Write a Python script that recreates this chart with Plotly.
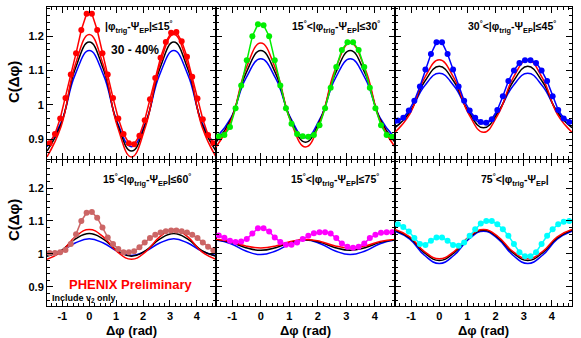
import plotly.graph_objects as go

# ---------------- data ----------------
bin_x = [-1.473, -1.276, -1.080, -0.884, -0.687, -0.491, -0.295, -0.098,
         0.098, 0.295, 0.491, 0.687, 0.884, 1.080, 1.276, 1.473,
         1.669, 1.865, 2.062, 2.258, 2.454, 2.651, 2.847, 3.043,
         3.240, 3.436, 3.633, 3.829, 4.025, 4.222, 4.418, 4.614]

curve_x = [-1.571, -1.047, -0.524, 0.0, 0.524, 1.047, 1.571, 2.094, 2.618,
           3.142, 3.665, 4.189, 4.712]

data_p1 = [0.888, 0.915, 0.960, 1.020, 1.088, 1.150, 1.218, 1.265,
           1.265, 1.218, 1.150, 1.088, 1.020, 0.960, 0.915, 0.888,
           0.885, 0.910, 0.955, 1.016, 1.078, 1.137, 1.183, 1.210,
           1.212, 1.185, 1.140, 1.082, 1.018, 0.958, 0.912, 0.888]
data_p2 = [0.908, 0.912, 0.935, 0.990, 1.056, 1.130, 1.200, 1.235,
           1.232, 1.200, 1.130, 1.056, 0.990, 0.945, 0.915, 0.908,
           0.907, 0.912, 0.940, 0.990, 1.050, 1.110, 1.160, 1.182,
           1.182, 1.160, 1.110, 1.050, 0.990, 0.940, 0.912, 0.907]
data_p3 = [0.954, 0.962, 0.983, 1.012, 1.053, 1.103, 1.148, 1.182,
           1.182, 1.148, 1.103, 1.053, 1.012, 0.983, 0.962, 0.950,
           0.948, 0.958, 0.985, 1.025, 1.069, 1.100, 1.122, 1.130,
           1.130, 1.122, 1.100, 1.069, 1.025, 0.985, 0.960, 0.950]
data_p4 = [1.003, 1.003, 1.005, 1.012, 1.030, 1.060, 1.100, 1.125,
           1.127, 1.110, 1.080, 1.050, 1.030, 1.015, 1.005, 1.005,
           1.008, 1.020, 1.035, 1.048, 1.058, 1.065, 1.069, 1.071,
           1.071, 1.069, 1.065, 1.058, 1.048, 1.035, 1.022, 1.011]
data_p5 = [1.056, 1.049, 1.040, 1.036, 1.038, 1.045, 1.062, 1.078,
           1.078, 1.068, 1.050, 1.036, 1.028, 1.028, 1.035, 1.045,
           1.055, 1.063, 1.066, 1.066, 1.062, 1.048, 1.032, 1.022,
           1.019, 1.022, 1.032, 1.048, 1.058, 1.064, 1.066, 1.066]
data_p6 = [1.090, 1.082, 1.068, 1.048, 1.030, 1.027, 1.040, 1.050,
           1.050, 1.040, 1.027, 1.025, 1.035, 1.055, 1.075, 1.092,
           1.100, 1.100, 1.090, 1.075, 1.055, 1.030, 1.005, 0.993,
           0.993, 1.005, 1.030, 1.055, 1.075, 1.090, 1.098, 1.100]

red_p1 = [0.848, 0.937, 1.116, 1.205, 1.116, 0.937, 0.848, 0.937, 1.116, 1.205, 1.116, 0.937, 0.848]
blk_p1 = [0.865, 0.944, 1.104, 1.183, 1.104, 0.944, 0.865, 0.944, 1.104, 1.183, 1.104, 0.944, 0.865]
blu_p1 = [0.878, 0.948, 1.088, 1.158, 1.088, 0.948, 0.878, 0.948, 1.088, 1.158, 1.088, 0.948, 0.878]

red_p2 = [0.877, 0.953, 1.104, 1.180, 1.104, 0.953, 0.877, 0.953, 1.104, 1.180, 1.104, 0.953, 0.877]
blk_p2 = [0.891, 0.958, 1.091, 1.158, 1.091, 0.958, 0.891, 0.958, 1.091, 1.158, 1.091, 0.958, 0.891]
blu_p2 = [0.904, 0.962, 1.077, 1.134, 1.077, 0.962, 0.904, 0.962, 1.077, 1.134, 1.077, 0.962, 0.904]

red_p3 = [0.920, 0.973, 1.078, 1.131, 1.078, 0.973, 0.920, 0.973, 1.078, 1.131, 1.078, 0.973, 0.920]
blk_p3 = [0.933, 0.978, 1.067, 1.112, 1.067, 0.978, 0.933, 0.978, 1.067, 1.112, 1.067, 0.978, 0.933]
blu_p3 = [0.945, 0.982, 1.055, 1.092, 1.055, 0.982, 0.945, 0.982, 1.055, 1.092, 1.055, 0.982, 0.945]

red_p4 = [0.984, 1.006, 1.052, 1.074, 1.052, 1.006, 0.984, 1.006, 1.052, 1.074, 1.052, 1.006, 0.984]
blk_p4 = [0.993, 1.010, 1.045, 1.062, 1.045, 1.010, 0.993, 1.010, 1.045, 1.062, 1.045, 1.010, 0.993]
blu_p4 = [0.995, 1.008, 1.033, 1.046, 1.033, 1.008, 0.995, 1.008, 1.033, 1.046, 1.033, 1.008, 0.995]

red_p5 = [1.044, 1.038, 1.024, 1.018, 1.024, 1.038, 1.044, 1.038, 1.024, 1.018, 1.024, 1.038, 1.044]
blk_p5 = [1.043, 1.035, 1.019, 1.011, 1.019, 1.035, 1.043, 1.035, 1.019, 1.011, 1.019, 1.035, 1.043]
blu_p5 = [1.042, 1.031, 1.009, 0.998, 1.009, 1.031, 1.042, 1.031, 1.009, 0.998, 1.009, 1.031, 1.042]

red_p6 = [1.074, 1.052, 1.007, 0.985, 1.007, 1.052, 1.074, 1.052, 1.007, 0.985, 1.007, 1.052, 1.074]
blk_p6 = [1.072, 1.049, 1.003, 0.980, 1.003, 1.049, 1.072, 1.049, 1.003, 0.980, 1.003, 1.049, 1.072]
blu_p6 = [1.069, 1.045, 0.996, 0.971, 0.996, 1.045, 1.069, 1.045, 0.996, 0.971, 0.996, 1.045, 1.069]

panel_labels = [
    "|φ<sub>trig</sub>-Ψ<sub>EP</sub>|≤15<sup>°</sup>",
    "15<sup>°</sup>&lt;|φ<sub>trig</sub>-Ψ<sub>EP</sub>|≤30<sup>°</sup>",
    "30<sup>°</sup>&lt;|φ<sub>trig</sub>-Ψ<sub>EP</sub>|≤45<sup>°</sup>",
    "15<sup>°</sup>&lt;|φ<sub>trig</sub>-Ψ<sub>EP</sub>|≤60<sup>°</sup>",
    "15<sup>°</sup>&lt;|φ<sub>trig</sub>-Ψ<sub>EP</sub>|≤75<sup>°</sup>",
    "75<sup>°</sup>&lt;|φ<sub>trig</sub>-Ψ<sub>EP</sub>|",
]
x_tickvals = [-1, 0, 1, 2, 3, 4]
x_ticktext = ["-1", "0", "1", "2", "3", "4"]
y_tickvals = [0.9, 1.0, 1.1, 1.2]
y_ticktext = ["0.9", "1", "1.1", "1.2"]

data_sets = [data_p1, data_p2, data_p3, data_p4, data_p5, data_p6]
data_colors = ["#ff0000", "#00ee00", "#0000ff", "#cc6666", "#ff00ff", "#00ffff"]
curves = [(red_p1, blk_p1, blu_p1), (red_p2, blk_p2, blu_p2), (red_p3, blk_p3, blu_p3),
          (red_p4, blk_p4, blu_p4), (red_p5, blk_p5, blu_p5), (red_p6, blk_p6, blu_p6)]

# ---------------- layout geometry ----------------
W, H = 581, 338
col_px = [(47, 216), (216, 395), (395, 572)]
row_px = [(7, 159), (160, 306)]
label_right_px = [174, 382, 558, 193, 381, 551]
XR = [-1.5708, 4.7124]
YR = [0.842, 1.285]

FONT = "Liberation Sans, Arial, sans-serif"

fig = go.Figure()
layout = dict(
    width=W, height=H, margin=dict(l=0, r=0, t=0, b=0),
    paper_bgcolor="white", plot_bgcolor="white", showlegend=False,
    font=dict(family=FONT, color="black"),
)

annotations = []
for i in range(6):
    r, c = divmod(i, 3)
    n = i + 1
    xa = "xaxis" if n == 1 else f"xaxis{n}"
    ya = "yaxis" if n == 1 else f"yaxis{n}"
    xref = "x" if n == 1 else f"x{n}"
    yref = "y" if n == 1 else f"y{n}"
    x0, x1 = col_px[c]
    y0, y1 = row_px[r]
    layout[xa] = dict(
        domain=[x0 / W, x1 / W], range=XR, anchor=yref,
        showline=True, linecolor="black", linewidth=1, mirror="ticks",
        ticks="inside", ticklen=6, tickwidth=1, tickcolor="black",
        tickmode="array", tickvals=x_tickvals, ticktext=x_ticktext,
        showticklabels=(r == 1),
        tickfont=dict(family=FONT, size=11, weight="bold"),
        minor=dict(tickmode="linear", tick0=0, dtick=0.2, ticks="inside",
                   ticklen=3, tickcolor="black"),
        showgrid=False, zeroline=False, fixedrange=True,
    )
    layout[ya] = dict(
        domain=[1 - y1 / H, 1 - y0 / H], range=YR, anchor=xref,
        showline=True, linecolor="black", linewidth=1, mirror="ticks",
        ticks="inside", ticklen=6, tickwidth=1, tickcolor="black",
        tickmode="array", tickvals=y_tickvals, ticktext=y_ticktext,
        showticklabels=(c == 0),
        tickfont=dict(family=FONT, size=11, weight="bold"),
        minor=dict(tickmode="linear", tick0=0, dtick=0.02, ticks="inside",
                   ticklen=3, tickcolor="black"),
        showgrid=False, zeroline=False, fixedrange=True,
    )

    red, blk, blu = curves[i]
    for vals, col in [(blu, "#0000ff"), (blk, "black"), (red, "#ff0000")]:
        fig.add_trace(go.Scatter(
            x=curve_x, y=vals, mode="lines", xaxis=xref, yaxis=yref,
            line=dict(color=col, width=1.5, shape="spline", smoothing=1.3),
            hoverinfo="skip"))
    fig.add_trace(go.Scatter(
        x=bin_x, y=data_sets[i], mode="lines+markers", xaxis=xref, yaxis=yref,
        line=dict(color=data_colors[i], width=1.5),
        marker=dict(color=data_colors[i], size=6, symbol="circle"),
        hoverinfo="skip"))

    # panel label (top-right region)
    annotations.append(dict(
        text="<b>" + panel_labels[i] + "</b>", xref="paper", yref="paper",
        x=label_right_px[i] / W, y=1 - (y0 + 20) / H, xanchor="right", yanchor="middle",
        showarrow=False, font=dict(family=FONT, size=10.5, color="black")))

    if r == 1:
        annotations.append(dict(
            text="<b>Δφ (rad)</b>", xref="paper", yref="paper",
            x=((x0 + x1) / 2) / W, y=1 - 330 / H, xanchor="center", yanchor="middle",
            showarrow=False, font=dict(family=FONT, size=13, color="black")))

for yc in [82, 220]:
    annotations.append(dict(
        text="<b>C(Δφ)</b>", xref="paper", yref="paper",
        x=13 / W, y=1 - yc / H, xanchor="center", yanchor="middle", textangle=-90,
        showarrow=False, font=dict(family=FONT, size=15, color="black")))

annotations.append(dict(
    text="<b>30 - 40%</b>", xref="paper", yref="paper",
    x=109 / W, y=1 - 50 / H, xanchor="left", yanchor="middle",
    showarrow=False, font=dict(family=FONT, size=12, color="black")))
annotations.append(dict(
    text="<b>PHENIX Preliminary</b>", xref="paper", yref="paper",
    x=67 / W, y=1 - 284 / H, xanchor="left", yanchor="middle",
    showarrow=False, font=dict(family=FONT, size=13, color="#ff0000")))
annotations.append(dict(
    text="<b>Include v<sub>2</sub> only</b>", xref="paper", yref="paper",
    x=50 / W, y=1 - 298 / H, xanchor="left", yanchor="middle",
    showarrow=False, font=dict(family=FONT, size=9, color="black")))

layout["annotations"] = annotations
fig.update_layout(**layout)
fig.write_html("out.html", config={"displayModeBar": False},
               post_script="document.body.style.margin='0px';")
